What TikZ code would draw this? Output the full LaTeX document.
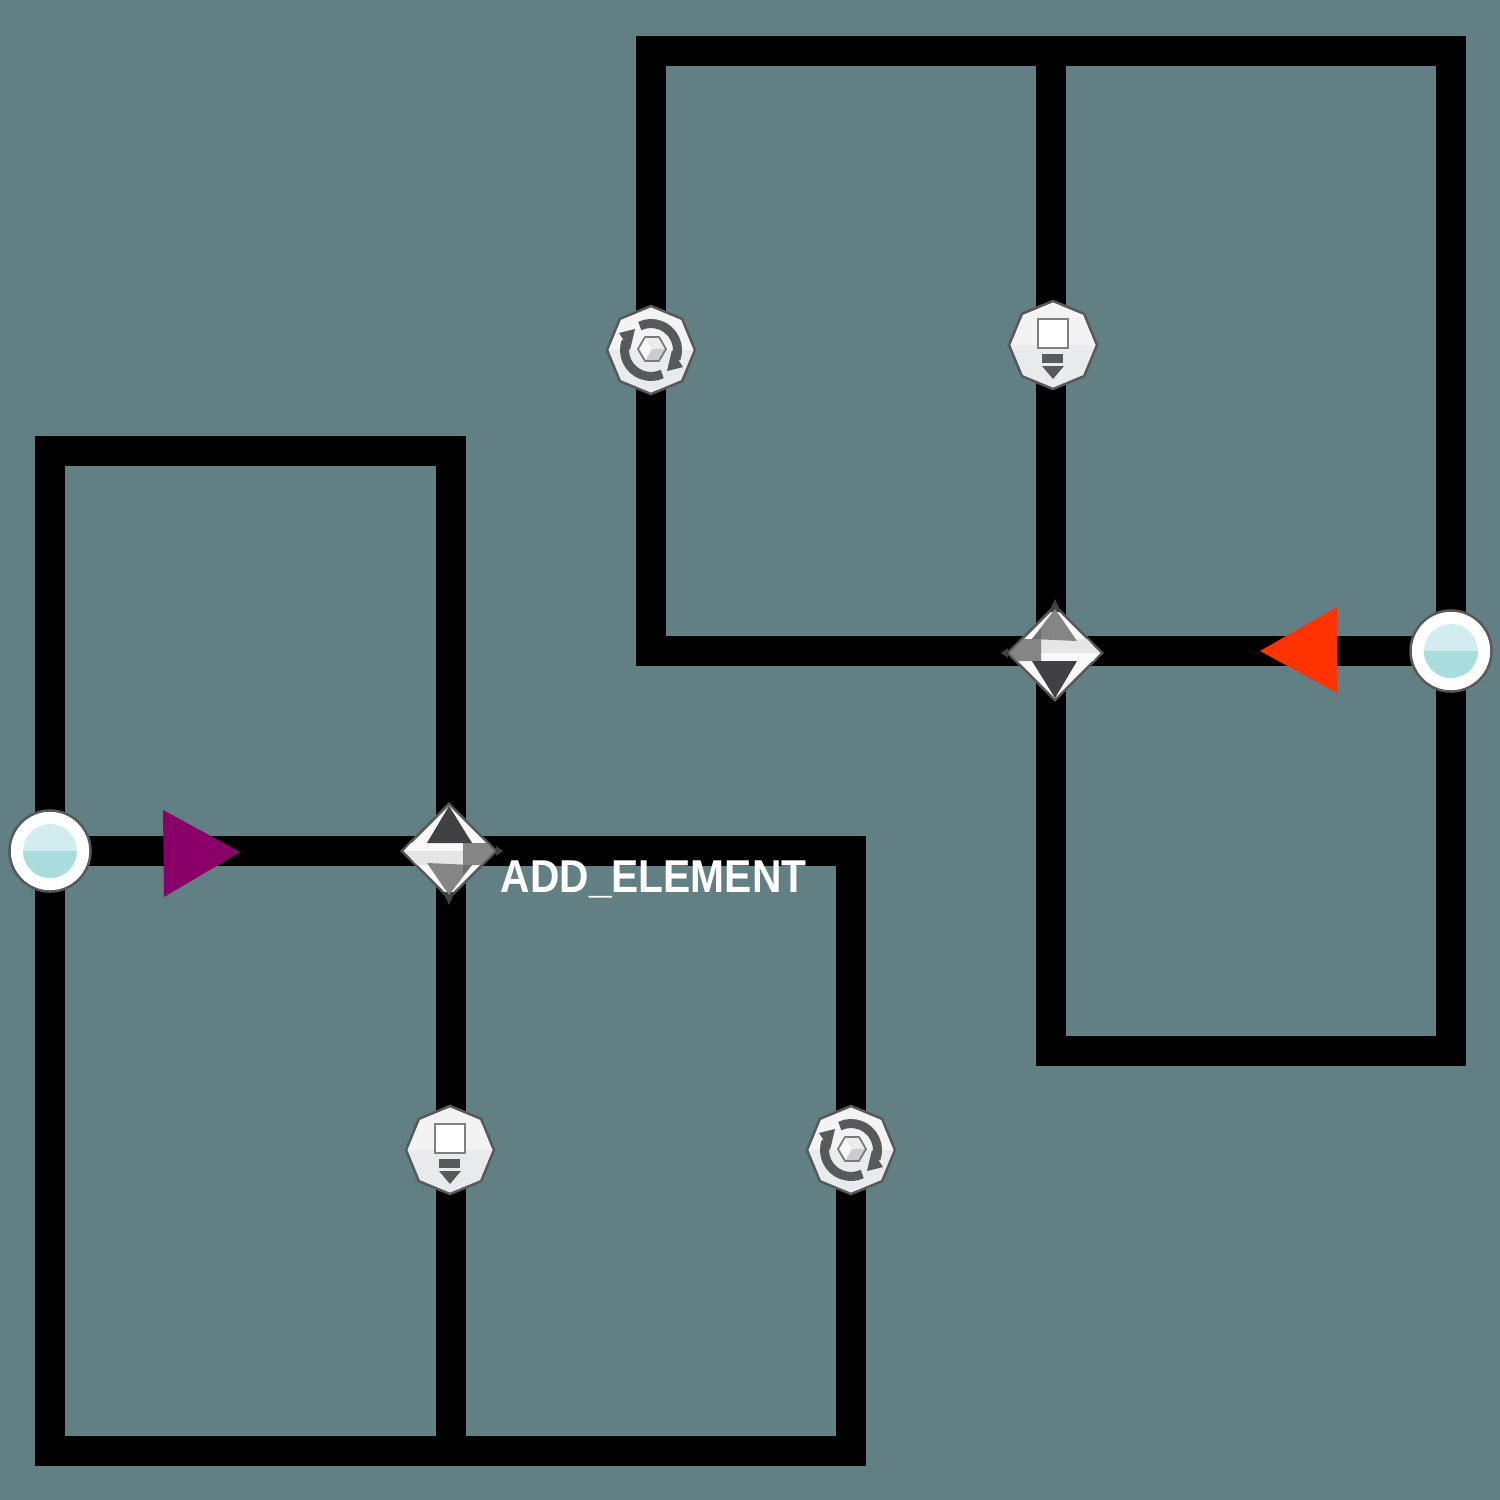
\documentclass[tikz,border=0pt]{standalone}
\usepackage{fontspec}
\newfontfamily\labelfont[FakeStretch=0.885]{Liberation Sans}
\usetikzlibrary{shapes.geometric,backgrounds}
\definecolor{canvas}{HTML}{627F83}
\definecolor{rim}{HTML}{58595B}
\definecolor{ink}{HTML}{414042}
\definecolor{facegrey}{HTML}{858585}
\definecolor{bulbtop}{HTML}{D3ECF0}
\definecolor{bulblow}{HTML}{A9DDDD}
\definecolor{octatop}{HTML}{F3F3F4}
\definecolor{octalow}{HTML}{E9EAEC}
\definecolor{flowpurple}{HTML}{8A0068}
\definecolor{flowred}{HTML}{FF3300}
\tikzset{
  flow/.style={line width=0.3cm,line join=miter,black,shorten <=-0.2cm,shorten >=-0.2cm},
  octa/.style={regular polygon,regular polygon sides=8,shape border rotate=22.5,
    minimum size=0.88cm,inner sep=0,outer sep=0,draw=rim,line width=0.025cm,fill=octatop,
    path picture={\fill[octalow] (path picture bounding box.west) rectangle (path picture bounding box.south east);}},
  bulb/.style={circle,minimum size=0.81cm,inner sep=0,outer sep=0,draw=rim,line width=0.025cm,fill=white},
  gate/.style={diamond,aspect=1,minimum width=0.94cm,minimum height=0.94cm,inner sep=0,outer sep=0,
    draw=rim,line width=0.025cm,fill=white!96!rim},
  stopglyph/.pic={
    \draw[fill=white,draw=gray,line width=0.02cm] (-15,-26) rectangle (15,3);
    \fill[rim] (-11,9) rectangle (10,18);
    \fill[rim] (-11,21) -- (11,21) -- (0,34) -- cycle;
  },
  turnglyph/.pic={
    \draw[rim,line width=0.09cm] (-11.2,-24) arc[start angle=245,end angle=380,radius=26.5];
    \draw[rim,line width=0.09cm] (11.2,24) arc[start angle=65,end angle=200,radius=26.5];
    \fill[rim] (21,0) -- (32,17) -- (16,21) -- cycle;
    \fill[rim] (-21,0) -- (-32,-17) -- (-16,-21) -- cycle;
    \fill[white!96!rim] (1,-1) -- (-6,-13) -- (-13,-1) -- (-6,11) -- cycle;
    \fill[white!88!rim] (1,-1) -- (-6,-13) -- (8,-13) -- (15,-1) -- cycle;
    \fill[white!70!rim] (1,-1) -- (15,-1) -- (8,11) -- (-6,11) -- cycle;
    \draw[rim!80!white,line width=0.018cm,line join=round] (-13,-1) -- (-6,-13) -- (8,-13) -- (15,-1) -- (8,11) -- (-6,11) -- cycle;
  },
  gateglyph/.pic={
    \fill[ink] (47,-5) -- (54,0) -- (47,5) -- cycle;
    \fill[ink] (-6,41) -- (0,54) -- (6,41) -- cycle;
    \fill[white!97!rim] (-38,-8) -- (14,-8) -- (14,0) -- (-45,0) -- cycle;
    \fill[white!85!rim] (-45,0) -- (14,0) -- (14,14) -- (-32,14) -- cycle;
    \fill[facegrey] (14,-8) -- (38,-8) -- (45.5,0) -- (32,14) -- (14,14) -- cycle;
    \fill[ink] (0,-45) -- (-22,-8) -- (23,-8) -- cycle;
    \fill[facegrey] (-22,12) -- (23,14) -- (0,44) -- cycle;
    \fill[white!12!rim] (14,14) -- (23,14) -- (14,24) -- cycle;
  },
  startglyph/.pic={
    \fill[bulbtop] (0,0) circle[radius=27];
    \fill[bulblow] (-27,0) arc[start angle=180,end angle=0,radius=27] -- cycle;
  }
}
\begin{document}
\begin{tikzpicture}[x=0.01cm,y=-0.01cm]
  \useasboundingbox (0,0) rectangle (1500,1500);
  % left group
  \node[bulb] (startA) at (50,851) {};
  \node[gate] (gateA) at (449,851) {};
  \node[octa] (taskA) at (450,1150) {};
  \node[octa] (turnA) at (851,1150) {};
  \coordinate (topA) at (50,451);
  \coordinate (midA) at (451,851);
  \coordinate (footA) at (50,1451);
  \coordinate (footmidA) at (451,1451);
  \coordinate (footendA) at (851,1451);
  \coordinate (elbowA) at (851,851);
  % right group
  \node[bulb] (startB) at (1451,651) {};
  \node[gate] (gateB) at (1055,653) {};
  \node[octa] (taskB) at (1053,345) {};
  \node[octa] (turnB) at (651,350) {};
  \coordinate (topB) at (651,51);
  \coordinate (toprightB) at (1451,51);
  \coordinate (topmidB) at (1051,51);
  \coordinate (midB) at (1051,651);
  \coordinate (elbowB) at (651,651);
  \coordinate (footB) at (1051,1051);
  \coordinate (footendB) at (1451,1051);
  \begin{scope}[on background layer]
    \fill[canvas] (0,0) rectangle (1500,1500);
    \draw[flow] (startA) -- (midA) -- (elbowA) -- (turnA);
    \draw[flow] (startA) -- (topA) -| (midA);
    \draw[flow] (startA) -- (footA) -- (footendA) -- (turnA);
    \draw[flow,shorten >=0pt] (midA) -- (footmidA);
    \draw[flow] (startB) -- (midB) -- (elbowB) -- (turnB);
    \draw[flow] (turnB) -- (topB) -- (toprightB) -- (startB);
    \draw[flow,shorten <=0pt] (topmidB) -- (midB);
    \draw[flow] (midB) -- (footB) -- (footendB) -- (startB);
  \end{scope}
  \pic at (startA) {startglyph};
  \pic at (startB) {startglyph};
  \pic at (gateA) {gateglyph};
  \pic[rotate=180] at (gateB) {gateglyph};
  \pic at (taskA) {stopglyph};
  \pic at (taskB) {stopglyph};
  \pic at (turnA) {turnglyph};
  \pic at (turnB) {turnglyph};
  \fill[flowpurple] (163,810) -- (240,852) -- (164,897) -- cycle;
  \fill[flowred] (1260,651) -- (1337,607) -- (1337,693) -- cycle;
  \node[anchor=base west,inner sep=0,text=white,font=\labelfont\bfseries\fontsize{13.1pt}{15pt}\selectfont] (addlabel) at (500,892) {ADD\_ELEMENT};
\end{tikzpicture}
\end{document}
